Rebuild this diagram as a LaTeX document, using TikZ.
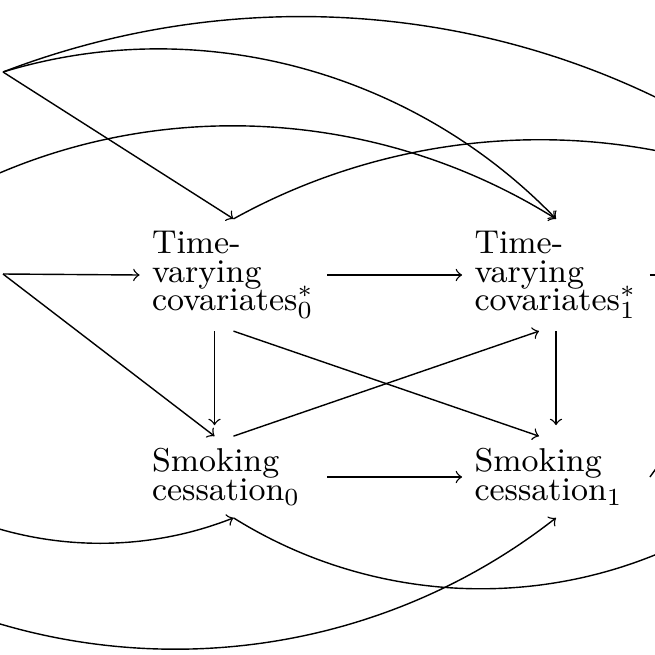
\documentclass[tikz,border=0pt]{standalone}
\usepackage{amsmath}
\newcommand{\dagfont}{\fontsize{9.4}{8.15}\selectfont\setlength{\lineskiplimit}{-10pt}}

\begin{document}
\begin{tikzpicture}[>=to, every node/.style={text width=1.63cm,align=left,font=\dagfont}]
            \useasboundingbox (0,0) rectangle (6.55,-6.55);
            \clip (0,0) rectangle (6.55,-6.55);

            \node (cov0) at (2.335,-2.75) {Time-\\varying\\covariates$^*_0$};
            \node (cov1) at (5.56,-2.75) {Time-\\varying\\covariates$^*_1$};
            \node (smk0) at (2.335,-4.77) {Smoking\\cessation$_0$};
            \node (smk1) at (5.56,-4.77) {Smoking\\cessation$_1$};

            % ends of the arrows that leave the frame
            \coordinate (bl1) at (0.03,-0.72);
            \coordinate (bl2) at (0.03,-2.74);
            \coordinate (inT) at (-0.81,-2.15);
            \coordinate (inS) at (-0.33,-5.18);
            \coordinate (inS2) at (-2.06,-5.18);
            \coordinate (outT) at (8.34,-2.15);
            \coordinate (outS) at (7.27,-5.18);
            \coordinate (outM) at (7.4,-2.75);
            \coordinate (outU) at (7.2,-3.80);

            \draw[->] (bl1)--(cov0.north);
            \draw[->] (bl1) to[out=17,in=134,distance=2.05cm] (cov1.north);
            \draw[->] (bl1) to[out=21,in=139,distance=3.03cm] (outT);
            \draw[->] (inT) to[out=32,in=148,distance=2.29cm] (cov1.north);
            \draw[->] (cov0.north) to[out=29,in=151,distance=2.12cm] (outT);

            \draw[->] (bl2)--(cov0.west);
            \draw[->] (bl2)--([xshift=-0.19cm]smk0.north);
            \draw[->] (cov0.east)--(cov1.west);
            \draw[->] (cov1.east)--(outM);
            \draw[->,shorten >=0.11cm] ([xshift=-0.19cm]cov0.south)--([xshift=-0.19cm]smk0.north);
            \draw[->,shorten >=0.11cm] (cov1.south)--(smk1.north);
            \draw[->] (cov0.south)--([xshift=-0.17cm]smk1.north);
            \draw[->] (smk0.north)--([xshift=-0.17cm]cov1.south);
            \draw[->] (smk0.east)--(smk1.west);
            \draw[->] (smk1.east)--(outU);

            \draw[->] (inS) to[out=-21.5,in=-158.5,distance=0.92cm] (smk0.south);
            \draw[->] (smk0.south) to[out=-32,in=-148,distance=1.78cm] (outS);
            \draw[->] (inS2) to[out=-38,in=-142,distance=2.84cm] (smk1.south);
        \end{tikzpicture}
\end{document}
